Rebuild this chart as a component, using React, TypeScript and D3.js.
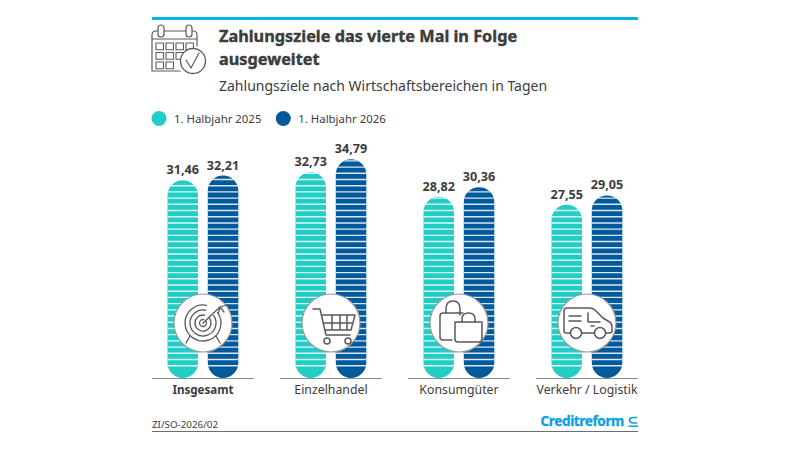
import React from "react";
import * as d3 from "d3";

const categories = ["Insgesamt", "Einzelhandel", "Konsumgüter", "Verkehr / Logistik"];
const series2025 = [31.46, 32.73, 28.82, 27.55];
const series2026 = [32.21, 34.79, 30.36, 29.05];
const seriesNames = ["1. Halbjahr 2025", "1. Halbjahr 2026"];
const titleLines = ["Zahlungsziele das vierte Mal in Folge", "ausgeweitet"];
const subtitle = "Zahlungsziele nach Wirtschaftsbereichen in Tagen";
const footer = "ZI/SO-2026/02";
const logo = "Creditreform";

const C25 = "#22cdc6";
const C26 = "#005a9b";
const INK = "#3c3c3c";
const ICON = "#5a5a5a";
const FONT = "'Noto Sans', 'Open Sans', sans-serif";

const y = d3.scaleLinear().domain([0, 34.79]).range([378, 159.3]);
const x0 = d3.scaleLinear().domain([0, 3]).range([152, 536]);
const groupW = 102;
const barW = 30.5;
const bar1 = 15.5;
const bar2 = 55.8;
const stripes = d3.range(365.7, 150, -6.207);

function fmt(v: number) {
  return v.toFixed(2).replace(".", ",");
}

function capsule(x: number, top: number, w: number, bottom: number) {
  const r = w / 2;
  const p = d3.path();
  p.moveTo(x, top + r);
  p.arc(x + r, top + r, r, Math.PI, 0);
  p.lineTo(x + w, bottom - r);
  p.arc(x + r, bottom - r, r, 0, Math.PI);
  p.closePath();
  return p.toString();
}

const ic = { fill: "none", stroke: ICON, strokeWidth: 1.5, strokeLinecap: "round" as const, strokeLinejoin: "round" as const };

function Calendar() {
  const cells: React.ReactNode[] = [];
  [0, 1, 2].forEach((r) =>
    [0, 1, 2, 3].forEach((c) => {
      if (c === 3 && r > 0) return;
      if (c === 2 && r === 2) return;
      cells.push(<rect key={r + "-" + c} x={156 + c * 10} y={43 + r * 9.5} width={7.5} height={6.8} {...ic} strokeWidth={1.1} />);
    })
  );
  return (
    <g>
      <path d="M168 31 H156 Q152 31 152 35 V71 H180 M192 31 H154 M192 31 H193 Q197 31 197 35 V46 M152 39 H197" {...ic} strokeWidth={1.2} />
      <rect x={158} y={25} width={6} height={12} rx={3} fill="#fff" stroke={ICON} strokeWidth={1.2} />
      <rect x={186} y={25} width={6} height={12} rx={3} fill="#fff" stroke={ICON} strokeWidth={1.2} />
      {cells}
      <circle cx={193} cy={61} r={12.5} fill="#fff" stroke={ICON} strokeWidth={1.3} />
      <path d="M186 60 L191 68 L199 53" {...ic} strokeWidth={1.2} />
    </g>
  );
}

function Target() {
  return (
    <g>
      {[18, 13, 8, 3.5].map((r) => (
        <path key={r} d={d3.arc()({ innerRadius: r, outerRadius: r, startAngle: 0.95, endAngle: 2 * Math.PI + 0.2 }) as string} {...ic} strokeWidth={1.3} />
      ))}
      <path d="M0 0 L17 -16 M17 -16 L15.5 -10 M17 -16 L24 -18 M17 -16 L21 -11 M-13 13 L-17 20 M13 13 L17 20" {...ic} strokeWidth={1.3} />
    </g>
  );
}

function Cart() {
  return (
    <g>
      <path d="M-18 -14 H-11 L-5 12 H19 M-9 -8 H24 L20 7 H-6 M1 -8 V7 M9 -8 V7 M16 -8 V7 M-8 0 H22" {...ic} />
      <circle cx={-4} cy={18} r={3} {...ic} />
      <circle cx={17} cy={18} r={3} {...ic} />
    </g>
  );
}

function Bags() {
  return (
    <g>
      <path d="M0 -10 H-16 Q-19 -10 -19 -7 V14 Q-19 17 -16 17 H-7" {...ic} />
      <path d="M-13 -10 V-14 Q-13 -22 -6 -22 Q1 -22 1 -14 V-8 M0 -10 H4" {...ic} />
      <path d="M-4 -1 H23 V16 Q23 19 20 19 H-1 Q-4 19 -4 16 Z" {...ic} />
      <path d="M3 -1 V-4 Q3 -10 9.5 -10 Q16 -10 16 -4 V-1" {...ic} />
    </g>
  );
}

function Van() {
  return (
    <g>
      <path d="M-17 10 H-21 Q-23 10 -23 8 V-12 Q-23 -15 -20 -15 H3 Q6 -15 9 -12 L16 -5 L21 -2 Q25 0 25 4 V8 Q25 10 22 10 H19 M7 10 H-5" {...ic} />
      <circle cx={-11} cy={10} r={5.5} {...ic} />
      <circle cx={13} cy={10} r={5.5} {...ic} />
      <path d="M-18 -7 H-6 M-18 -2 H-6 M1 -10 V-1 H13 M4 3 H7" {...ic} />
    </g>
  );
}

const icons = [Target, Cart, Bags, Van];

export default function App() {
  return (
    <svg
      width={800}
      height={450}
      viewBox="0 0 800 450"
      style={{ position: "absolute", left: 0, top: 0, background: "#fff" }}
      fontFamily={FONT}
    >
      <rect x={152} y={17} width={486} height={3} fill="#00b4e4" />
      <Calendar />
      {titleLines.map((t, i) => (
        <text key={t} x={219} y={42 + i * 22.5} fontSize={16.3} fontWeight={700} fill={INK} stroke={INK} strokeWidth={0.4}>
          {t}
        </text>
      ))}
      <text x={219} y={91} fontSize={14} fill={INK}>{subtitle}</text>

      {seriesNames.map((s, i) => (
        <g key={s}>
          <circle cx={159 + i * 124.3} cy={118.5} r={7.5} fill={i === 0 ? C25 : C26} />
          <text x={174 + i * 124.3} y={122.5} fontSize={11.4} fill={INK}>{s}</text>
        </g>
      ))}

      {categories.map((c, i) => {
        const gx = x0(i);
        const Icon = icons[i];
        const bars = [
          { v: series2025[i], x: gx + bar1, col: C25 },
          { v: series2026[i], x: gx + bar2, col: C26 },
        ];
        return (
          <g key={c}>
            {bars.map((b, j) => {
              const id = `clip-${i}-${j}`;
              return (
                <g key={j}>
                  <clipPath id={id}>
                    <path d={capsule(b.x, y(b.v), barW, y(0))} />
                  </clipPath>
                  <path d={capsule(b.x, y(b.v), barW, y(0))} fill={b.col} />
                  <g clipPath={`url(#${id})`}>
                    {stripes.map((s) => (
                      <line key={s} x1={b.x} x2={b.x + barW} y1={s} y2={s} stroke="#fff" strokeOpacity={0.85} strokeWidth={1.4} />
                    ))}
                  </g>
                  <text x={b.x + barW / 2} y={y(b.v) - 6} textAnchor="middle" fontSize={12.6} fontWeight={700} fill={INK}>
                    {fmt(b.v)}
                  </text>
                </g>
              );
            })}
            <line x1={gx} x2={gx + groupW} y1={378.5} y2={378.5} stroke="#8c8c8c" strokeWidth={1.2} />
            <g transform={`translate(${gx + 51},323)`}>
              <circle r={29} fill="#fff" stroke="#9a9a9a" strokeWidth={1.2} />
              <Icon />
            </g>
            <text x={gx + 51} y={393.5} textAnchor="middle" fontSize={i === 0 ? 11.6 : 12.3} fontWeight={i === 0 ? 700 : 400} fill={INK}>
              {c}
            </text>
          </g>
        );
      })}

      <text x={152} y={427.5} fontSize={9.8} fill={INK}>{footer}</text>
      <line x1={152} x2={638} y1={431.5} y2={431.5} stroke="#6e6e6e" strokeWidth={1} />
      <text x={540.5} y={425.8} fontSize={13.6} fontWeight={700} fill="#0a9fe3" stroke="#0a9fe3" strokeWidth={0.3} letterSpacing={-0.4}>{logo}</text>
      <path d="M637 417.5 H633.5 Q629.5 417.5 629.5 420 Q629.5 423 633.5 423 H637 M628.5 426.2 H638" fill="none" stroke="#0a9fe3" strokeWidth={1.6} />
    </svg>
  );
}
